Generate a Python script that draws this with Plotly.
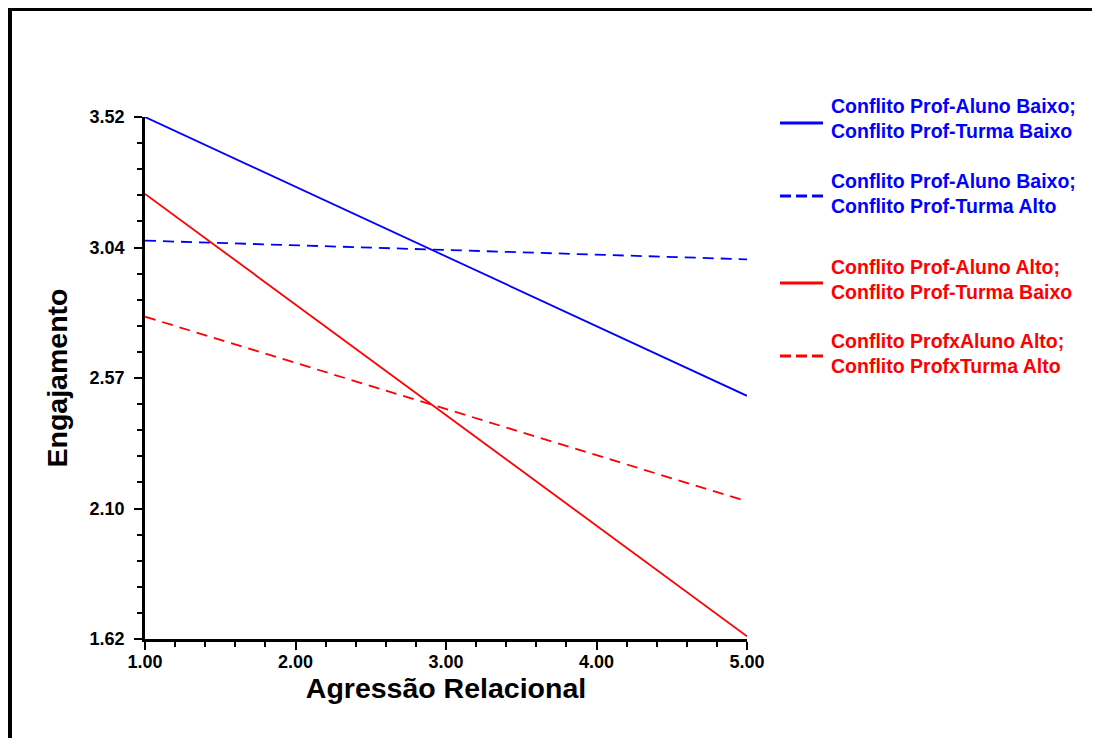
import plotly.graph_objects as go

# Data
x_vals = [1.0, 5.0]
series_names = [
    "Conflito Prof-Aluno Baixo;<br>Conflito Prof-Turma Baixo",
    "Conflito Prof-Aluno Baixo;<br>Conflito Prof-Turma Alto",
    "Conflito Prof-Aluno Alto;<br>Conflito Prof-Turma Baixo",
    "Conflito ProfxAluno Alto;<br>Conflito ProfxTurma Alto",
]
blue_low_low = [3.52, 2.505]
blue_low_high = [3.07, 3.002]
red_high_low = [3.24, 1.63]
red_high_high = [2.793, 2.121]
series_values = [blue_low_low, blue_low_high, red_high_low, red_high_high]
series_colors = ["#0000FF", "#0000FF", "#FF0000", "#FF0000"]
series_dash = ["solid", "11px,7px", "solid", "11px,7px"]
legend_dash = ["solid", "11px,5px", "solid", "11px,5px"]

y_tickvals = [1.62, 2.095, 2.57, 3.045, 3.52]
y_ticktext = ["1.62", "2.10", "2.57", "3.04", "3.52"]
x_tickvals = [1, 2, 3, 4, 5]
x_ticktext = ["1.00", "2.00", "3.00", "4.00", "5.00"]

FONT = "Liberation Sans, Arial, sans-serif"
OFF = 8  # page body margin
W, H = 1100 - 2 * OFF, 746 - 2 * OFF
L, T = 145 - OFF, 117 - OFF
R = W - (747 - OFF)
B = H - (639 - OFF)
pw, ph = W - L - R, H - T - B


def px_x(p):
    return (p - OFF - L) / pw


def px_y(p):
    return (H - B - (p - OFF)) / ph


fig = go.Figure()
for name, vals, col, dash in zip(series_names, series_values, series_colors, series_dash):
    fig.add_trace(go.Scatter(
        x=x_vals, y=vals, mode="lines", name=name,
        line=dict(color=col, width=1.8, dash=dash),
        cliponaxis=False, showlegend=False,
    ))

# Custom legend (text + sample lines)
legend_centers = [118, 193, 279, 353]
sample_y = [123, 196, 283, 356]
shapes = []
annotations = []
for name, col, dash, cy, sy in zip(series_names, series_colors, legend_dash, legend_centers, sample_y):
    annotations.append(dict(
        xref="paper", yref="paper", x=px_x(829), y=px_y(cy),
        xanchor="left", yanchor="middle", align="left", showarrow=False,
        text="<b>" + name + "</b>",
        font=dict(family=FONT, size=19.5, color=col),
    ))
    shapes.append(dict(
        type="line", xref="paper", yref="paper",
        x0=px_x(780), x1=px_x(823), y0=px_y(sy), y1=px_y(sy),
        line=dict(color=col, width=3, dash=dash),
    ))

# Outer frame: only the left and top edges are visible in the picture
shapes.append(dict(
    type="line", xref="paper", yref="paper",
    x0=px_x(10), x1=px_x(10), y0=px_y(800), y1=px_y(7),
    line=dict(color="black", width=4), layer="below",
))
shapes.append(dict(
    type="line", xref="paper", yref="paper",
    x0=px_x(8), x1=px_x(1250), y0=px_y(9), y1=px_y(9),
    line=dict(color="black", width=4), layer="below",
))

axis_common = dict(
    showgrid=False, zeroline=False, showline=True, linecolor="black", linewidth=2.5,
    ticks="outside", ticklen=8, tickwidth=2, tickcolor="black",
    tickfont=dict(family=FONT, size=18, color="black", weight="bold"),
)

fig.update_layout(
    width=W, height=H,
    margin=dict(l=L, r=R, t=T, b=B),
    paper_bgcolor="white", plot_bgcolor="white",
    shapes=shapes, annotations=annotations,
    xaxis=dict(
        range=[1, 5], tickvals=x_tickvals, ticktext=x_ticktext,
        minor=dict(dtick=0.2, tick0=1, ticks="outside", ticklen=5, tickwidth=2, tickcolor="black"),
        title=dict(text="<b>Agressão Relacional</b>", standoff=6,
                   font=dict(family=FONT, size=28.5, color="black")),
        ticklabelstandoff=-3,
        **axis_common,
    ),
    yaxis=dict(
        range=[1.62, 3.52], tickvals=y_tickvals, ticktext=y_ticktext,
        minor=dict(dtick=0.095, tick0=1.62, ticks="outside", ticklen=5, tickwidth=2, tickcolor="black"),
        title=dict(text="<b>Engajamento</b>", standoff=14,
                   font=dict(family=FONT, size=28.5, color="black")),
        ticklabelstandoff=6,
        **axis_common,
    ),
)

fig.write_html("out.html")
